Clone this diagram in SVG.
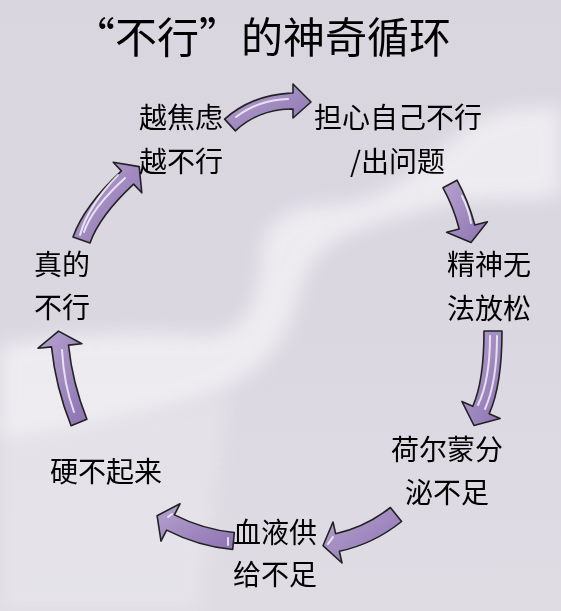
<svg xmlns="http://www.w3.org/2000/svg" width="561" height="611" viewBox="0 0 561 611">
<defs>
<linearGradient id="bg" x1="0" y1="0" x2="0" y2="1">
<stop offset="0" stop-color="#d9d6e0"/>
<stop offset="0.5" stop-color="#dbd7e1"/>
<stop offset="1" stop-color="#dfdce4"/>
</linearGradient>
<linearGradient id="af" x1="0" y1="0" x2="1" y2="1">
<stop offset="0" stop-color="#b6a3cf"/>
<stop offset="1" stop-color="#8c72b1"/>
</linearGradient>
<filter id="blur" x="-20%" y="-20%" width="140%" height="140%"><feGaussianBlur stdDeviation="9"/></filter>
<style>
.t{font-family:"Noto Sans CJK SC","Noto Sans",sans-serif;font-size:28px;fill:#000}
.ttl{font-family:"Noto Sans CJK SC","Noto Sans",sans-serif;font-size:42px;fill:#000}
.arr{fill:url(#af);stroke:#222;stroke-width:1.6;stroke-linejoin:round}
.hl{fill:none;stroke:#fff;stroke-width:2;stroke-opacity:0.75;stroke-linecap:round}
</style>
</defs>
<rect width="561" height="611" fill="url(#bg)"/>
<g filter="url(#blur)" fill="#f2f1f4" opacity="0.8">
<path d="M0,345 C60,335 130,330 200,335 C245,338 258,300 260,262 C262,222 285,205 330,205 C390,203 425,160 470,125 C510,100 540,112 561,105 L561,195 C520,205 480,192 425,210 C365,228 318,235 302,285 C288,335 275,372 200,398 C130,420 60,430 0,440 Z"/>
<path d="M0,440 C80,430 160,420 230,395 L200,611 L0,611 Z" opacity="0.45"/>
</g>
<text class="ttl" x="262" y="53" text-anchor="middle">“不行”的神奇循环</text>
<g id="connectors">
<path class="arr" d="M224.6,119.1 Q252.1,94.6 293,93 L293,84 L311,102 L293,118 L293,109 Q257.9,109.4 235.4,130.9 Z"/>
<path class="hl" d="M236,117 Q258,100 288,99"/>
<path class="arr" d="M457,180.2 Q468.4,201 474.8,225 L487.4,221.8 L471,242.5 L446.6,232.2 L459.2,229 Q453.6,207 443,187.8 Z"/>
<path class="hl" d="M462,196 Q469,210 471,223"/>
<path class="arr" d="M502,331 Q502,385 489.2,413.7 L500.1,418.6 L474,425.5 L461.9,401.4 L472.8,406.3 Q484,381 484,331 Z"/>
<path class="hl" d="M490,336 Q490,380 478,405"/>
<path class="hl" d="M497,336 Q497,382 485,409"/>
<path class="arr" d="M390.4,507.5 Q365.6,527.1 335.6,533.7 L333,522 L323,545.7 L342,563 L339.4,551.3 Q373.6,543.9 401.6,521.5 Z"/>
<path class="hl" d="M328,544 L333,537"/>
<path class="arr" d="M234.3,532.5 Q203.4,529.6 174.4,514.9 L180,503.8 L157.1,515.7 L161,541.2 L166.6,530.1 Q198.6,546.4 232.7,549.5 Z"/>
<path class="hl" d="M168,517 L172,514"/>
<path class="hl" d="M228,538 L228,545"/>
<path class="arr" d="M86.9,419.3 Q72.4,382.9 68.5,345.1 L81.9,343.8 L58.5,331.1 L38.1,348.2 L51.5,346.9 Q55.6,387.1 71.1,425.7 Z"/>
<path class="hl" d="M62,350 Q64,385 74,412"/>
<path class="arr" d="M90,243 Q99.5,215.9 133.6,184.1 L141.8,192.8 L139.2,166.6 L113.2,162.2 L121.4,170.9 Q84.1,205.9 73,237 Z"/>
<path class="hl" d="M84,232 Q92,208 125,178"/>
<path class="hl" d="M80,235 Q88,206 118,175"/>
</g>
<g id="n1"><text class="t" x="139" y="128">越焦虑</text><text class="t" x="139" y="172">越不行</text></g>
<g id="n2"><text class="t" x="314" y="128">担心自己不行</text><text class="t" x="350" y="172">/出问题</text></g>
<g id="n3"><text class="t" x="447" y="275">精神无</text><text class="t" x="447" y="319">法放松</text></g>
<g id="n4"><text class="t" x="391" y="460">荷尔蒙分</text><text class="t" x="405" y="503">泌不足</text></g>
<g id="n5"><text class="t" x="233" y="543">血液供</text><text class="t" x="233" y="585">给不足</text></g>
<g id="n6"><text class="t" x="50" y="482">硬不起来</text></g>
<g id="n7"><text class="t" x="34" y="275">真的</text><text class="t" x="34" y="318">不行</text></g>
</svg>
